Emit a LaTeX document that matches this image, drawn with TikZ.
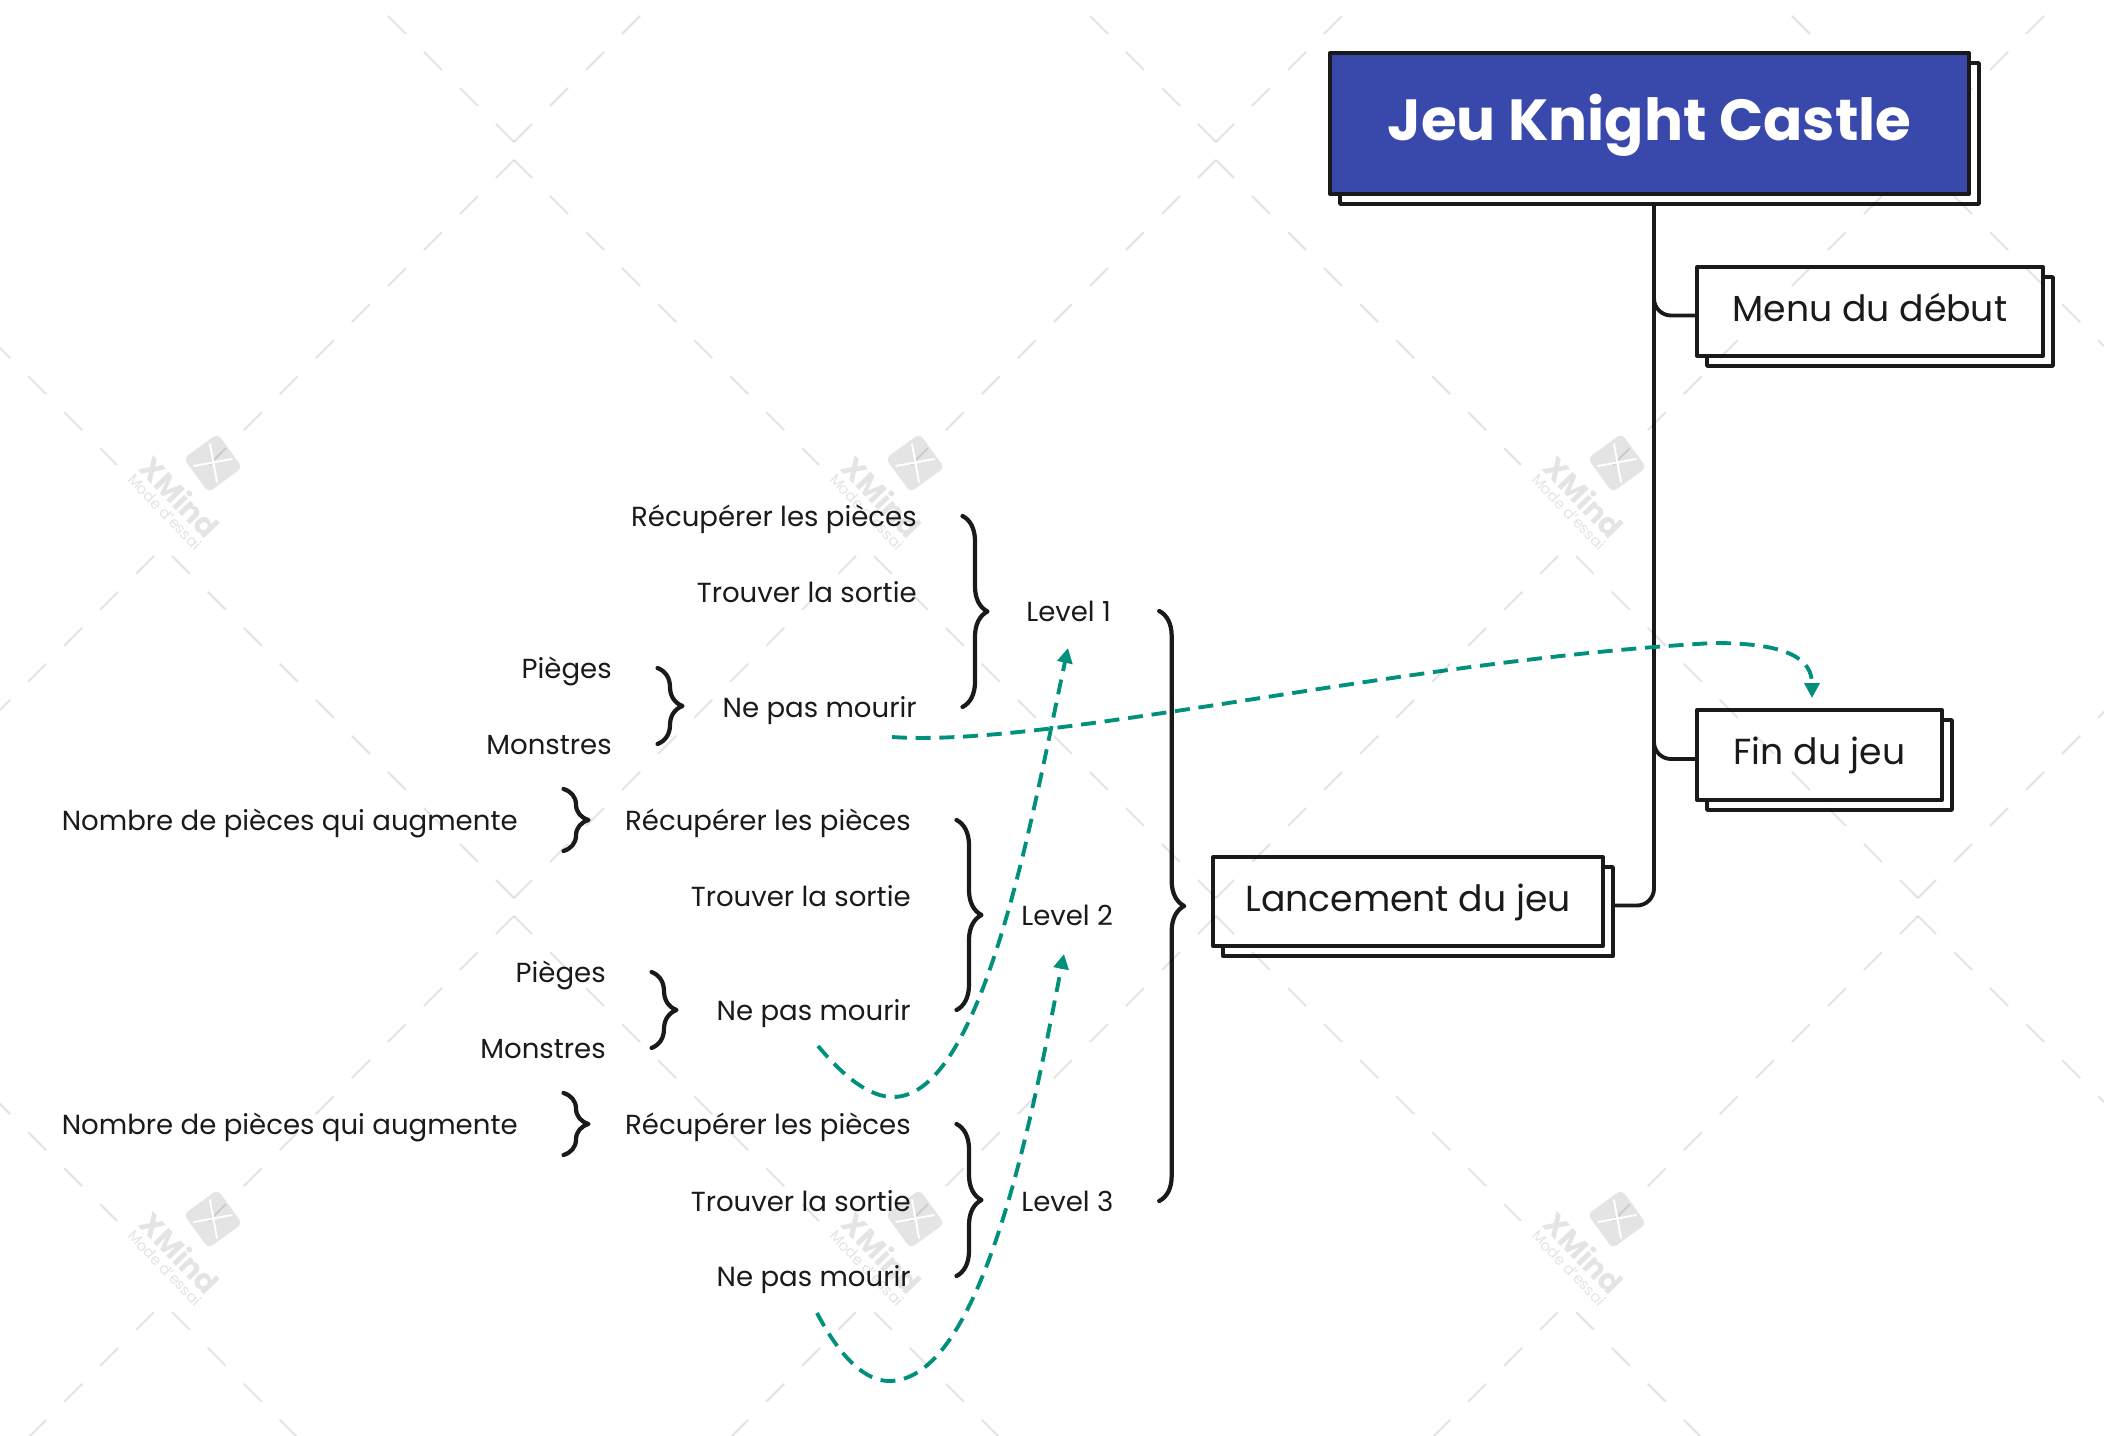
\documentclass[tikz,border=0pt]{standalone}
\usepackage{fontspec}
\setmainfont{Poppins}
\usepackage{xcolor}
\usetikzlibrary{arrows.meta,decorations.pathreplacing}
\definecolor{inkblack}{HTML}{1A1A1A}
\definecolor{titleblue}{HTML}{3949AB}
\definecolor{linkgreen}{HTML}{00907C}
\definecolor{markgray}{HTML}{E4E4E4}

\begin{document}
\begin{tikzpicture}[x=0.02cm, y=-0.02cm, line join=round,
  frontbox/.style={draw=inkblack, fill=white, line width=2.3pt, inner sep=0pt, text=inkblack,
    font=\fontsize{20.6}{24}\selectfont, text height=15pt, text depth=3.8pt},
  backbox/.style={draw=inkblack, fill=white, line width=2.2pt, inner sep=0pt},
  lab/.style={anchor=east, inner sep=0pt, text=inkblack, font=\fontsize{15.7}{19}\selectfont, text height=11.5pt, text depth=0pt},
  levellab/.style={lab, anchor=west},
  curlybrace/.style={draw=inkblack, line width=2.4pt, line cap=round, decorate, decoration={brace, amplitude=0.5cm}},
  branch/.style={draw=inkblack, line width=2.2pt, rounded corners=0.34cm},
  link/.style={draw=linkgreen, line width=2.2pt, dash pattern=on 8.5pt off 5pt, -{Triangle[length=8.5pt, width=8.5pt]}},
  markdash/.style={draw=markgray, line width=1.1pt, dash pattern=on 14.5pt off 14.5pt}]
\fill[white] (0,0) rectangle (2104,1436);
\clip (0,0) rectangle (2104,1436);
% boxes on the right
\node[backbox, minimum width=12.78cm, minimum height=2.82cm] (titleback) at (1659.5,133.5) {};
\node[backbox, minimum width=6.92cm, minimum height=1.78cm] (menuback) at (1880,321.5) {};
\node[backbox, minimum width=4.9cm, minimum height=1.8cm] (finback) at (1829.5,765) {};
\node[backbox, minimum width=7.8cm, minimum height=1.78cm] (lancementback) at (1418,911.5) {};
\coordinate (trunk) at (1654,204);
\draw[branch] (trunk) |- ([shift={(0,-6)}]menuback.west);
\draw[branch] (trunk) |- ([shift={(0,-6)}]finback.west);
\draw[branch] (trunk) |- ([shift={(0,-6)}]lancementback.east);
\node[frontbox, minimum width=6.92cm, minimum height=1.78cm] (menu) at (1870,311.5) {Menu du début};
\node[frontbox, minimum width=4.9cm, minimum height=1.8cm] (fin) at (1819.5,755) {Fin du jeu};
\node[frontbox, minimum width=7.8cm, minimum height=1.78cm] (lancement) at (1408,901.5) {Lancement du jeu};
% level 1
\node[lab] (recup1) at (917,516) {Récupérer les pièces};
\node[lab] (trouv1) at (917,592) {Trouver la sortie};
\node[lab] (mourir1) at (917,707) {Ne pas mourir};
\node[lab] (pieges1) at (612,668) {Pièges};
\node[lab] (monstres1) at (612,744) {Monstres};
\node[levellab] (level1) at (1026,611) {Level 1};
% level 2
\node[lab] (nombre2) at (518,820) {Nombre de pièces qui augmente};
\node[lab] (recup2) at (911,820) {Récupérer les pièces};
\node[lab] (trouv2) at (911,896) {Trouver la sortie};
\node[lab] (mourir2) at (911,1010) {Ne pas mourir};
\node[lab] (pieges2) at (606,972) {Pièges};
\node[lab] (monstres2) at (606,1048) {Monstres};
\node[levellab] (level2) at (1021,915) {Level 2};
% level 3
\node[lab] (nombre3) at (518,1124) {Nombre de pièces qui augmente};
\node[lab] (recup3) at (911,1124) {Récupérer les pièces};
\node[lab] (trouv3) at (911,1201) {Trouver la sortie};
\node[lab] (mourir3) at (911,1276) {Ne pas mourir};
\node[levellab] (level3) at (1021,1201) {Level 3};
% braces
\foreach \a/\b in {recup1/mourir1, pieges1/monstres1, recup2/mourir2, pieges2/monstres2, recup3/mourir3}
  \draw[curlybrace] ([shift={(45.5,0)}]\a.east) -- ([shift={(45.5,0)}]\b.east);
\foreach \a in {nombre2, nombre3}
  \draw[curlybrace] ([shift={(45.5,-31)}]\a.east) -- ([shift={(45.5,31)}]\a.east);
\draw[curlybrace] ([shift={(45.5,0)}]level3.east |- level1.east) -- ([shift={(45.5,0)}]level3.east);
% green links
\coordinate (linkAstart) at (892,737);
\coordinate (linkAend) at (1812,698);
\coordinate (linkBstart) at (818,1046);
\coordinate (linkBend) at (1068,648);
\coordinate (linkCstart) at (817,1313);
\coordinate (linkCend) at (1064,954);
\draw[link] (linkAstart) .. controls (1050,748) and (1400,660) .. (1714,643) .. controls (1790,643) and (1812,660) .. (linkAend);
\draw[link] (linkBstart) .. controls (845,1078) and (870,1097) .. (893,1097) .. controls (985,1097) and (1035,800) .. (linkBend);
\draw[link] (linkCstart) .. controls (840,1357) and (865,1381) .. (889,1381) .. controls (985,1381) and (1035,1100) .. (linkCend);
% watermark
\begin{scope}[blend mode=multiply]
\foreach \mx in {-188,514,1216,1918,2620}
  \foreach \my in {-596,160,916} {
    \draw[markdash] (\mx,\my) -- ++(-305,305);
    \draw[markdash] (\mx,\my) -- ++(305,305);
    \draw[markdash] (\mx,\my+738) -- ++(-342,-342);
    \draw[markdash] (\mx,\my+738) -- ++(342,-342);
  }
\foreach \lx/\ly/\n in {0/0/a,702/0/b,1404/0/c,0/756/d,702/756/e,1404/756/f} {
  \begin{scope}[shift={(\lx,\ly)}]
    \node[fill=markgray, rounded corners=0.1cm, minimum size=0.84cm, rotate=36, inner sep=0pt] (icon\n) at (213,463) {};
    \begin{scope}[blend mode=normal]
      \draw[white, line width=1.1pt, line cap=round] (210,444) -- (217,482);
      \draw[white, line width=1.1pt, line cap=round] (194,466) -- (232,459);
    \end{scope}
    \node[text=markgray, rotate=-46, font=\fontsize{17}{20}\selectfont\bfseries, inner sep=0pt] (xmind\n) at (180,497) {XMind};
    \node[text=markgray, rotate=-46, font=\fontsize{8.5}{10}\selectfont, inner sep=0pt] (essai\n) at (165,512) {Mode d'essai};
  \end{scope}
}
\end{scope}
% title on top
\node[frontbox, fill=titleblue, text=white, font=\fontsize{33}{40}\selectfont\bfseries, text height=23.4pt, text depth=4.4pt,
  minimum width=12.78cm, minimum height=2.82cm] (title) at (1649.5,123.5) {Jeu Knight Castle};
\end{tikzpicture}
\end{document}
